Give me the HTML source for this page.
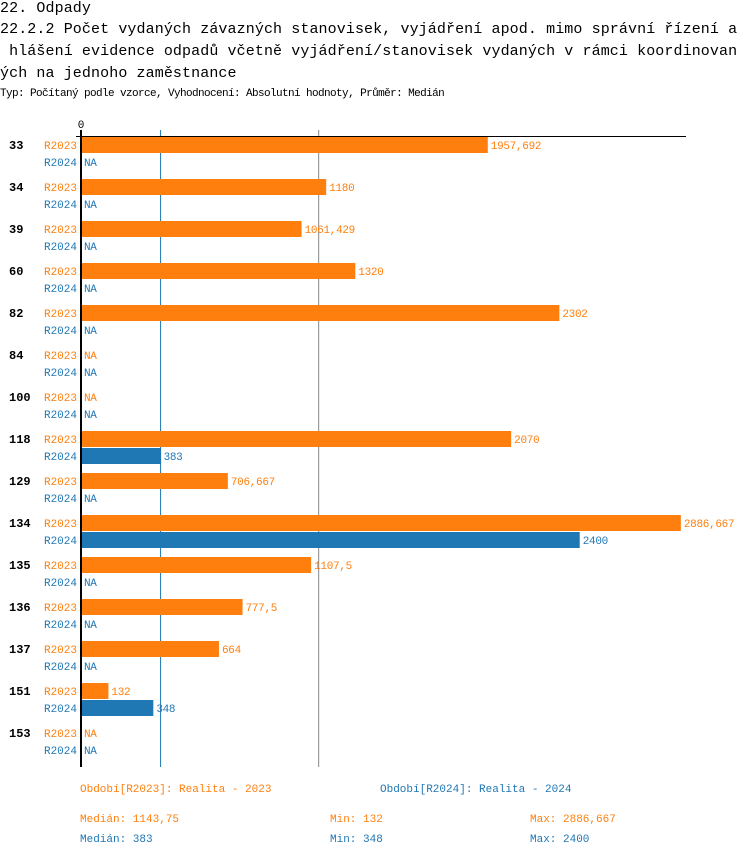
<!DOCTYPE html>
<html><head><meta charset="utf-8"><style>
body{margin:0;background:#fff;width:750px;height:856px;overflow:hidden;font-family:"Liberation Mono",monospace}
.t{position:absolute;left:0;font-size:15px;line-height:22px;color:#000;white-space:pre;letter-spacing:0.1px}
.s{position:absolute;left:0;top:88px;font-size:11px;white-space:pre;letter-spacing:-0.6px}
svg text{font-family:"Liberation Mono",monospace}
</style></head><body>
<div class="t" style="top:-2px">22. Odpady</div>
<div class="t" style="top:19px">22.2.2 Počet vydaných závazných stanovisek, vyjádření apod. mimo správní řízení a
 hlášení evidence odpadů včetně vyjádření/stanovisek vydaných v rámci koordinovan
ých na jednoho zaměstnance</div>
<div class="s">Typ: Počítaný podle vzorce, Vyhodnocení: Absolutní hodnoty, Průměr: Medián</div>
<svg id="c" width="750" height="856" style="position:absolute;left:0;top:0"></svg>
<script>
const categories=["33","34","39","60","82","84","100","118","129","134","135","136","137","151","153"];
const r2023=[1957.692,1180,1061.429,1320,2302,null,null,2070,706.667,2886.667,1107.5,777.5,664,132,null];
const r2024=[null,null,null,null,null,null,null,383,null,2400,null,null,null,348,null];
const labels2023=["1957,692","1180","1061,429","1320","2302","NA","NA","2070","706,667","2886,667","1107,5","777,5","664","132","NA"];
const labels2024=["NA","NA","NA","NA","NA","NA","NA","383","NA","2400","NA","NA","NA","348","NA"];
const median2023=1143.75, median2024=383;
const O="#ff7f0e",B="#1f77b4";
const svg=document.getElementById('c');const NS="http://www.w3.org/2000/svg";
function x(v){return 81+v*0.2078;}
function mk(t,a,txt){const e=document.createElementNS(NS,t);for(const k in a)e.setAttribute(k,a[k]);if(txt!=null)e.textContent=txt;svg.appendChild(e);return e;}
let l=mk('line',{x1:x(median2024),x2:x(median2024),y1:130,y2:767,stroke:B,'stroke-width':1});


l=mk('line',{x1:x(median2023),x2:x(median2023),y1:130,y2:767,stroke:'#888','stroke-width':1});


l=mk('line',{x1:76,x2:686,y1:136.5,y2:136.5,stroke:'#000','stroke-width':1});


l=mk('line',{x1:81,x2:81,y1:130,y2:767,stroke:'#000','stroke-width':2});


l=mk('text',{x:81,y:128,'font-size':11,'text-anchor':'middle'},'0');


categories.forEach((c,i)=>{
  const y1=145+42*i,y2=162+42*i;
  let t=mk('text',{x:9,y:y1+4,'font-size':12,'font-weight':'bold'},c);
  
  
  [[r2023,labels2023,O,'R2023',y1],[r2024,labels2024,B,'R2024',y2]].forEach(([arr,lab,col,nm,yy])=>{
    let s=mk('text',{x:77,y:yy+4,'font-size':11,'text-anchor':'end',fill:col},nm);
    
    
    const v=arr[i];let ex=84;
    if(v!=null){
      let r=mk('rect',{x:82,y:yy-8,width:x(v)-82,height:16,fill:col});
      
      
      ex=x(v)+3;
    }
    let vl=mk('text',{x:ex,y:yy+4,'font-size':11,fill:col,'letter-spacing':'-0.3'},lab[i]);
    
    
  });
});
const leg=[[80,792,O,'Období[R2023]: Realita - 2023'],[380,792,B,'Období[R2024]: Realita - 2024'],
[80,822,O,'Medián: 1143,75'],[330,822,O,'Min: 132'],[530,822,O,'Max: 2886,667'],
[80,842,B,'Medián: 383'],[330,842,B,'Min: 348'],[530,842,B,'Max: 2400']];
leg.forEach(a=>{let t=mk('text',{x:a[0],y:a[1],'font-size':11,fill:a[2]},a[3]);

});
</script>
</body></html>
